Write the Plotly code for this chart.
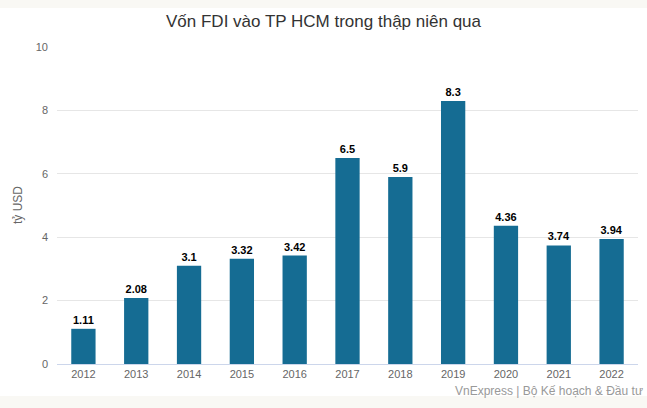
import plotly.graph_objects as go

years = ["2012", "2013", "2014", "2015", "2016", "2017", "2018", "2019", "2020", "2021", "2022"]
values = [1.11, 2.08, 3.1, 3.32, 3.42, 6.5, 5.9, 8.3, 4.36, 3.74, 3.94]
labels = ["1.11", "2.08", "3.1", "3.32", "3.42", "6.5", "5.9", "8.3", "4.36", "3.74", "3.94"]
y_ticks = [0, 2, 4, 6, 8, 10]

W, H = 647, 408
L, R, T, B = 57, 9, 47, 44
pw, ph = W - L - R, H - T - B

fig = go.Figure(go.Bar(
    x=years, y=values, text=labels, textposition="outside",
    textfont=dict(family="Liberation Sans, Arial", size=11, color="#000000", weight="bold"),
    marker=dict(color="#156c93", line=dict(width=0)),
    width=0.46, cliponaxis=False,
))

fig.update_layout(
    width=W, height=H,
    margin=dict(l=L, r=R, t=T, b=B, autoexpand=False),
    paper_bgcolor="#f9f8f4",
    plot_bgcolor="#ffffff",
    font=dict(family="Liberation Sans, Arial", size=11, color="#666666"),
    title=dict(text="Vốn FDI vào TP HCM trong thập niên qua", x=0.5, xanchor="center",
               y=1 - 21 / H, yanchor="middle",
               font=dict(family="Liberation Sans, Arial", size=17, color="#333333")),
    showlegend=False,
    bargap=0.54,
    xaxis=dict(type="category", showgrid=False, showline=True, linecolor="#ccd6eb", linewidth=1,
               ticks="", tickfont=dict(size=11, color="#666666"), fixedrange=True, automargin=False),
    yaxis=dict(range=[0, 10], tickvals=y_ticks, showgrid=True, gridcolor="#e6e6e6", gridwidth=1,
               zeroline=False, showline=False, ticks="", ticklabelstandoff=8, automargin=False,
               tickfont=dict(size=11, color="#666666")),
    shapes=[dict(type="rect", xref="paper", yref="paper", layer="below",
                 x0=-L / pw, x1=(W - L) / pw, y0=(T + ph - 396) / ph, y1=(T + ph - 8) / ph,
                 fillcolor="#ffffff", line=dict(width=0))],
    annotations=[
        dict(text="VnExpress | Bộ Kế hoạch & Đầu tư", xref="paper", yref="paper",
             x=(645 - L) / pw, y=(T + ph - 391) / ph, xanchor="right", yanchor="middle",
             showarrow=False, font=dict(size=12, color="#999999")),
        dict(text="tỷ USD", xref="paper", yref="paper", textangle=-90,
             x=(18 - L) / pw, y=(T + ph - 205) / ph, xanchor="center", yanchor="middle",
             showarrow=False, font=dict(size=12, color="#666666")),
    ],
)

fig.write_html("out.html", config={"displayModeBar": False},
               post_script="document.body.style.margin='0';document.body.style.overflow='hidden';")
